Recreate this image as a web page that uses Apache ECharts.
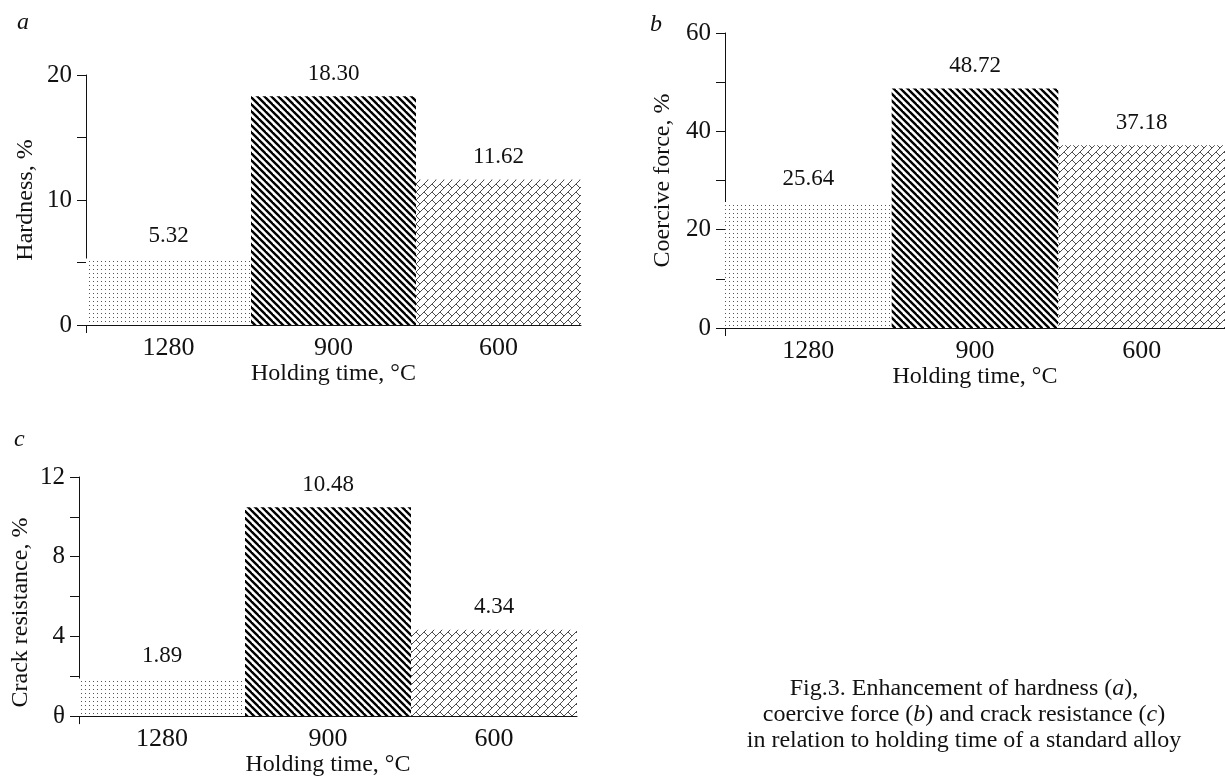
<!DOCTYPE html>
<html>
<head>
<meta charset="utf-8">
<title>Fig.3</title>
<script src="https://cdn.jsdelivr.net/npm/echarts@6/dist/echarts.min.js"></script>
<style>
  html, body { margin: 0; background: #fff; }
  #chart { width: 1225px; height: 778px; }
</style>
</head>
<body>
<div id="chart"></div>
<script>
// data
const temps = ['1280', '900', '600'];
const hardness = [5.32, 18.30, 11.62];
const coerciveForce = [25.64, 48.72, 37.18];
const crackResistance = [1.89, 10.48, 4.34];

// labelled ticks (the others are minor ticks)
const hardnessTicks = [0, 10, 20];
const coerciveTicks = [0, 20, 40, 60];
const crackTicks = [0, 4, 8, 12];
const crackTickText = ['θ', '4', '8', '12'];

const FONT = '"Liberation Serif", "Times New Roman", serif';
const INK = '#111';

// fill patterns drawn on small canvases
function dotPattern() {
  const c = document.createElement('canvas');
  c.width = 4; c.height = 4;
  const ctx = c.getContext('2d');
  ctx.fillStyle = '#fff';
  ctx.fillRect(0, 0, 4, 4);
  ctx.fillStyle = '#555';
  ctx.fillRect(1, 1, 1, 1);
  return c;
}

function stripePattern() {
  const n = 7;
  const c = document.createElement('canvas');
  c.width = n; c.height = n;
  const ctx = c.getContext('2d');
  ctx.fillStyle = '#fff';
  ctx.fillRect(0, 0, n, n);
  ctx.strokeStyle = '#000';
  ctx.lineWidth = 2.4;
  for (let k = -1; k <= 1; k++) {
    ctx.beginPath();
    ctx.moveTo(k * n - 2, -2);
    ctx.lineTo(k * n + n + 2, n + 2);
    ctx.stroke();
  }
  return c;
}

function brickPattern() {
  // bricks laid along the "/" diagonal, 2:1, staggered rows
  const n = 8;
  const r2 = Math.SQRT2;
  const h = n / r2, len = n * r2;
  const c = document.createElement('canvas');
  c.width = n; c.height = n;
  const ctx = c.getContext('2d');
  ctx.fillStyle = '#fff';
  ctx.fillRect(0, 0, n, n);
  ctx.setTransform(1 / r2, -1 / r2, 1 / r2, 1 / r2, 0, 0);
  ctx.strokeStyle = '#444';
  ctx.lineWidth = 0.9;
  for (let r = -4; r <= 5; r++) {
    ctx.beginPath();
    ctx.moveTo(-40, r * h);
    ctx.lineTo(40, r * h);
    ctx.stroke();
    const off = (((r % 2) + 2) % 2) * len / 2;
    for (let j = -4; j <= 4; j++) {
      ctx.beginPath();
      ctx.moveTo(j * len + off, r * h);
      ctx.lineTo(j * len + off, (r + 1) * h);
      ctx.stroke();
    }
  }
  return c;
}

const fills = [
  { image: dotPattern(), repeat: 'repeat' },
  { image: stripePattern(), repeat: 'repeat' },
  { image: brickPattern(), repeat: 'repeat' }
];

function xAxisFor(gridIndex, nameGap) {
  return {
    type: 'category',
    gridIndex,
    position: 'bottom',
    data: temps,
    boundaryGap: true,
    name: 'Holding time, °C',
    nameLocation: 'middle',
    nameGap,
    nameTextStyle: { fontFamily: FONT, fontSize: 24, color: INK },
    axisLine: { show: true, lineStyle: { color: INK, width: 1 } },
    axisTick: { show: false },
    axisLabel: { fontFamily: FONT, fontSize: 26, color: INK, margin: 10 },
    splitLine: { show: false }
  };
}

// only carries the short tick below the origin
function originTickAxis(gridIndex) {
  return {
    type: 'value',
    gridIndex,
    position: 'bottom',
    offset: 0,
    min: 0,
    max: 1,
    axisLine: { show: false },
    axisLabel: { show: false },
    axisTick: { show: true, length: 8, customValues: [0], lineStyle: { color: INK } },
    splitLine: { show: false }
  };
}

function yAxisFor(gridIndex, name, max, interval, ticks, tickText, nameGap, namePad) {
  return {
    type: 'value',
    gridIndex,
    min: 0,
    max,
    interval,
    name,
    nameLocation: 'middle',
    nameGap,
    nameTextStyle: { fontFamily: FONT, fontSize: 24, color: INK, padding: namePad || 0 },
    axisLine: { show: true, lineStyle: { color: INK, width: 1 } },
    axisTick: { show: true, length: 9, lineStyle: { color: INK } },
    axisLabel: {
      fontFamily: FONT, fontSize: 25, color: INK, margin: 14,
      formatter: v => {
        const k = ticks.indexOf(v);
        if (k < 0) return '';
        return tickText ? tickText[k] : String(v);
      }
    },
    splitLine: { show: false }
  };
}

function barSeries(idx, values) {
  return {
    type: 'bar',
    xAxisIndex: idx,
    yAxisIndex: idx,
    barWidth: '100%',
    barGap: 0,
    data: values.map((v, i) => ({ value: v, itemStyle: { color: fills[i] } })),
    label: {
      show: true,
      position: 'top',
      distance: 11,
      fontFamily: FONT,
      fontSize: 23,
      color: INK,
      formatter: p => p.value.toFixed(2)
    },
    emphasis: { disabled: true }
  };
}

const chart = echarts.init(document.getElementById('chart'));

chart.setOption({
  animation: false,
  backgroundColor: '#fff',
  tooltip: { show: false },
  grid: [
    { left: 86, top: 75, width: 495, height: 250 },
    { left: 725, top: 33, width: 500, height: 295 },
    { left: 79, top: 477, width: 498, height: 242 }
  ],
  xAxis: [
    xAxisFor(0, 36), xAxisFor(1, 34), xAxisFor(2, 35),
    originTickAxis(0), originTickAxis(1), originTickAxis(2)
  ],
  yAxis: [
    yAxisFor(0, 'Hardness, %', 20, 5, hardnessTicks, null, 48),
    yAxisFor(1, 'Coercive force, %', 60, 10, coerciveTicks, null, 50),
    yAxisFor(2, 'Crack resistance, %', 12, 2, crackTicks, crackTickText, 46, [0, 32, 0, 0])
  ],
  series: [
    barSeries(0, hardness),
    barSeries(1, coerciveForce),
    barSeries(2, crackResistance)
  ],
  graphic: [
    { type: 'text', x: 17, y: 11, style: { text: 'a', fontFamily: FONT, fontSize: 24, fontStyle: 'italic', fill: INK } },
    { type: 'text', x: 650, y: 13, style: { text: 'b', fontFamily: FONT, fontSize: 24, fontStyle: 'italic', fill: INK } },
    { type: 'text', x: 14, y: 428, style: { text: 'c', fontFamily: FONT, fontSize: 24, fontStyle: 'italic', fill: INK } },
    {
      type: 'text',
      x: 964,
      y: 676,
      style: {
        text: 'Fig.3. Enhancement of hardness ({i|a}),\ncoercive force ({i|b}) and crack resistance ({i|c})\nin relation to holding time of a standard alloy',
        fontFamily: FONT,
        fontSize: 24,
        lineHeight: 26,
        fill: INK,
        align: 'center',
        verticalAlign: 'top',
        rich: {
          i: { fontFamily: FONT, fontSize: 24, fontStyle: 'italic', lineHeight: 26, fill: INK }
        }
      }
    }
  ]
});
</script>
</body>
</html>
